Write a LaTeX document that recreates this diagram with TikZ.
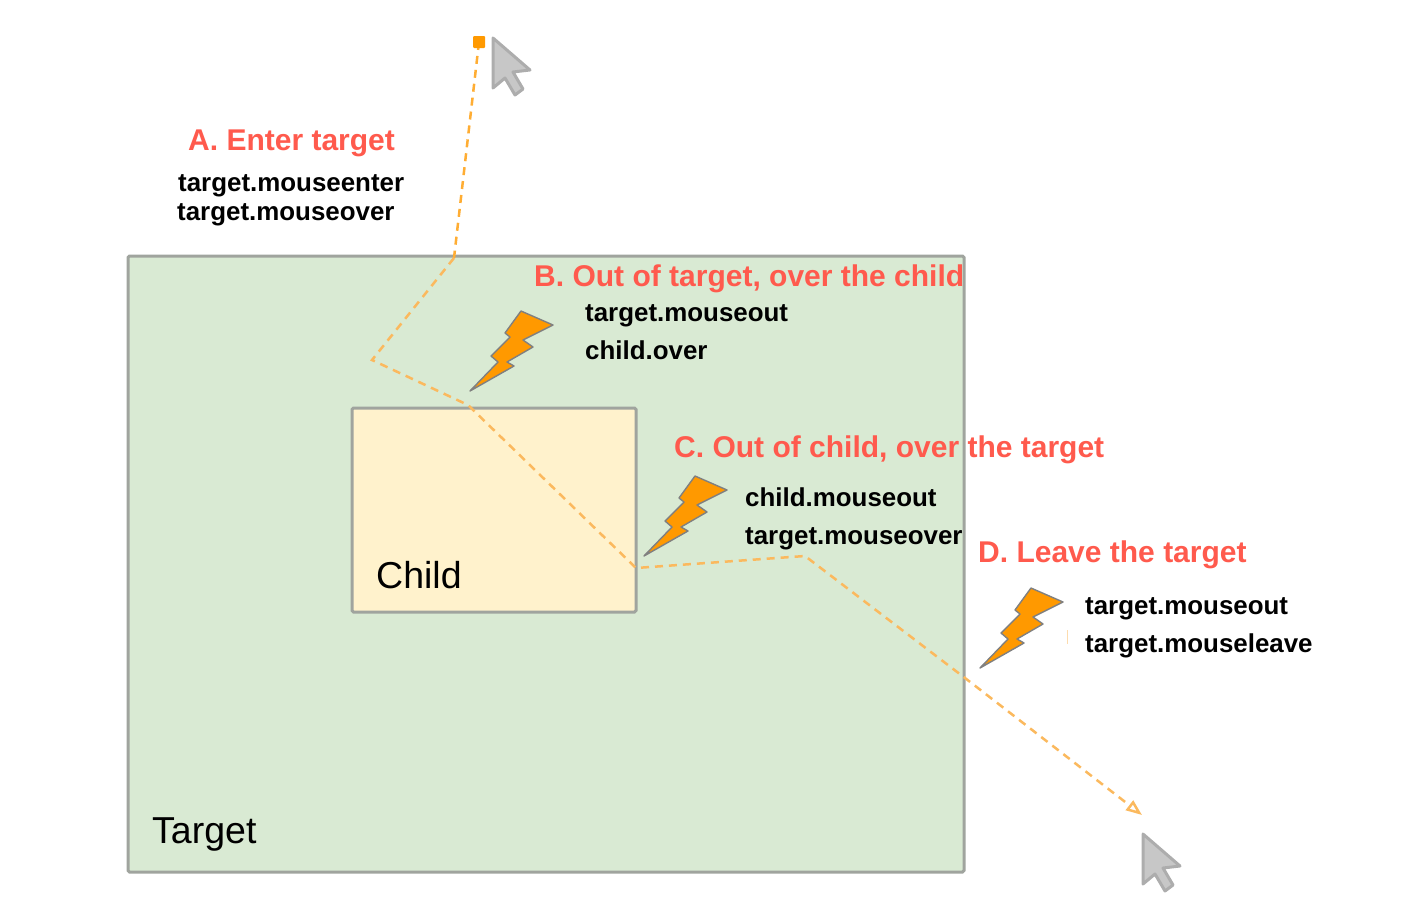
\documentclass[tikz,border=0pt]{standalone}
\usepackage{fontspec}
\setmainfont{Liberation Sans}
\usetikzlibrary{arrows.meta}
\definecolor{targetgreen}{HTML}{D9EAD3}
\definecolor{childcream}{HTML}{FFF2CC}
\definecolor{boxgray}{HTML}{A0A49E}
\definecolor{trackorange}{HTML}{FBB95E}
\definecolor{boltorange}{HTML}{FF9900}
\definecolor{headingred}{HTML}{FF5A4D}
\tikzset{
	box/.style={draw=boxgray, line width=3pt, rounded corners=1.5pt, inner sep=0pt},
	track/.style={draw=trackorange, line width=2.5pt, dash pattern=on 8pt off 6pt},
	heading/.style={anchor=base west, inner sep=0pt, text=headingred, font=\fontsize{30}{36}\selectfont\bfseries},
	event/.style={anchor=base west, inner sep=0pt, text=black, font=\fontsize{25.9}{31}\selectfont\bfseries},
	boxname/.style={anchor=base west, inner sep=0pt, text=black, font=\fontsize{37.5}{45}\selectfont},
	bolt/.pic={\draw[fill=boltorange, draw=black!50, line width=1.4pt, line join=round]
		(0,0) -- (44,-25) -- (37,-29) -- (63,-44) -- (53,-51) -- (83,-66) -- (51,-80)
		-- (35,-58) -- (40,-54) -- (21,-35) -- (28,-29) -- cycle;},
	pointer/.pic={\draw[fill=black!22, draw=black!32, line width=3pt, line join=round]
		(0,0) -- (37,32) -- (20,34) -- (30,51) -- (22,57) -- (12,40) -- (0,50) -- cycle;},
}
\begin{document}
\begin{tikzpicture}[x=1pt,y=-1pt]
	\useasboundingbox (0,0) rectangle (1422,908);
	\node[box, fill=targetgreen, minimum width=836pt, minimum height=616pt] (target) at (546,564) {};
	\node[box, fill=childcream, minimum width=284pt, minimum height=204pt] (child) at (494,510) {};

	% path of the mouse
	\coordinate (start) at (479,42);
	\coordinate (enter) at (454,258);
	\coordinate (turnA) at (372,360);
	\coordinate (childin) at (468,405);
	\coordinate (childout) at (636,568);
	\coordinate (turnB) at (805,556);
	\coordinate (leave) at (965,678);
	\coordinate (stop) at (1142,815);
	\draw[track, draw=boltorange!80] (start) -- (enter);
	\draw[track, -{Triangle[open, length=16pt, width=12pt, line width=2.5pt]}]
		(enter) -- (turnA) -- (childin) -- (childout) -- (turnB) -- (leave) -- (stop);
	\fill[boltorange, rounded corners=1pt] (473,36) rectangle (485,48);
	\draw[trackorange!50, line width=1pt] (1067,630) -- (1067,644);

	\pic at (493,38) {pointer};
	\pic at (1143,834) {pointer};
	\pic at (470,391) {bolt};
	\pic at (644,556) {bolt};
	\pic at (980,668) {bolt};

	\node[boxname] (childname) at (376,588) {Child};
	\node[boxname] (targetname) at (152,843) {Target};

	\node[heading] (headA) at (188,150) {A. Enter target};
	\node[event] (eventA1) at (178,191) {target.mouseenter};
	\node[event] (eventA2) at (177,220) {target.mouseover};

	\node[heading] (headB) at (534,286) {B. Out of target, over the child};
	\node[event] (eventB1) at (585,321) {target.mouseout};
	\node[event] (eventB2) at (585,359) {child.over};

	\node[heading] (headC) at (674,457) {C. Out of child, over the target};
	\node[event] (eventC1) at (745,506) {child.mouseout};
	\node[event] (eventC2) at (745,544) {target.mouseover};

	\node[heading] (headD) at (978,562) {D. Leave the target};
	\node[event] (eventD1) at (1085,614) {target.mouseout};
	\node[event] (eventD2) at (1085,652) {target.mouseleave};
\end{tikzpicture}
\end{document}
